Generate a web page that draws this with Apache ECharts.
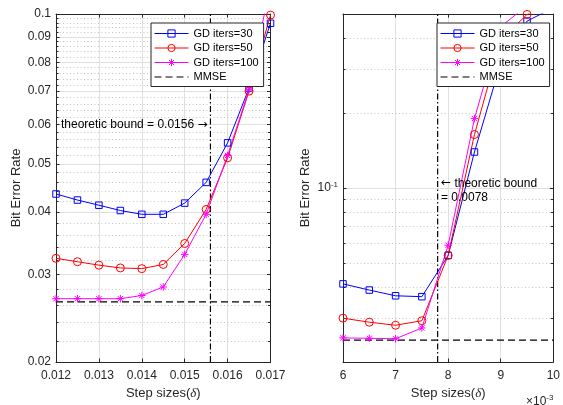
<!DOCTYPE html>
<html>
<head>
<meta charset="utf-8">
<script src="https://cdn.jsdelivr.net/npm/echarts@6/dist/echarts.min.js"></script>
<style>
html,body{margin:0;padding:0;background:#fff;}
#chart{width:563px;height:405px;}
</style>
</head>
<body>
<div id="chart"></div>
<script>
// Sweep 1: step sizes 0.012 .. 0.017
const stepsWide = [0.012, 0.0125, 0.013, 0.0135, 0.014, 0.0145, 0.015, 0.0155, 0.016, 0.0165, 0.017];
const berWide30  = [0.0435, 0.0423, 0.0413, 0.0403, 0.0396, 0.0396, 0.0417, 0.0459, 0.0551, 0.0710, 0.0958];
const berWide50  = [0.0323, 0.0318, 0.0313, 0.0309, 0.0308, 0.0314, 0.0346, 0.0405, 0.0514, 0.0700, 0.0995];
const berWide100 = [0.0268, 0.0268, 0.0268, 0.0268, 0.0272, 0.0283, 0.0329, 0.0396, 0.0520, 0.0705, 0.1150];
const mmseWide = 0.0264;
const boundWide = 0.0156;

// Sweep 2: step sizes 0.006 .. 0.010
const stepsNarrow = [0.006, 0.0065, 0.007, 0.0075, 0.008, 0.0085, 0.009, 0.0095, 0.010];
const berNarrow30  = [0.0412, 0.0389, 0.0369, 0.0366, 0.0536, 0.1395, 0.318, 0.468, 0.530];
const berNarrow50  = [0.0300, 0.0289, 0.0281, 0.0293, 0.0536, 0.164, 0.393, 0.498, 0.560];
const berNarrow100 = [0.0250, 0.0249, 0.0248, 0.0274, 0.0589, 0.190, 0.445, 0.540, 0.600];
const mmseNarrow = 0.0245;
const boundNarrow = 0.0078;

// Axis ticks
const xTicksWide = [0.012, 0.013, 0.014, 0.015, 0.016, 0.017];
const yTicksWide = [0.02, 0.03, 0.04, 0.05, 0.06, 0.07, 0.08, 0.09, 0.1];
const yMinorWide = [0.022, 0.024, 0.026, 0.028, 0.032, 0.034, 0.036, 0.038, 0.042, 0.044, 0.046, 0.048,
                    0.052, 0.054, 0.056, 0.058, 0.062, 0.064, 0.066, 0.068, 0.072, 0.074, 0.076, 0.078,
                    0.082, 0.084, 0.086, 0.088, 0.092, 0.094, 0.096, 0.098];
const xTicksNarrow = [0.006, 0.007, 0.008, 0.009, 0.010];
const yTicksNarrow = [0.1];
const yMinorNarrow = [0.03, 0.04, 0.05, 0.06, 0.07, 0.08, 0.09, 0.2, 0.3, 0.4];

const names = ['GD iters=30', 'GD iters=50', 'GD iters=100', 'MMSE'];

const FONT = 'Liberation Sans, Arial, Helvetica, sans-serif';
const ARROW_FONT = 'DejaVu Sans, sans-serif';
const INK = '#262626';
const GRID_MAJOR = '#dfdfdf';
const GRID_MINOR = '#c4c4c4';
const STAR = 'path://M5,0L5,10M0,5L10,5M1.5,1.5L8.5,8.5M1.5,8.5L8.5,1.5';

const panels = [
  { left: 56, xs: stepsWide, ys: [berWide30, berWide50, berWide100], mmse: mmseWide, bound: boundWide,
    xMin: 0.012, xMax: 0.017, xTicks: xTicksWide, yMin: 0.02, yMax: 0.1, yTicks: yTicksWide, yMinor: yMinorWide,
    yNameGap: 33,
    xFmt: v => v.toFixed(3),
    yFmt: v => (Math.abs(v - 0.1) < 1e-9 ? '0.1' : (+v).toFixed(2)) },
  { left: 343, xs: stepsNarrow, ys: [berNarrow30, berNarrow50, berNarrow100], mmse: mmseNarrow, bound: boundNarrow,
    xMin: 0.006, xMax: 0.010, xTicks: xTicksNarrow, yMin: 0.02, yMax: 0.5, yTicks: yTicksNarrow, yMinor: yMinorNarrow,
    yNameGap: 31,
    xFmt: v => String(Math.round(v * 1000)),
    yFmt: v => '{b|10}{s|-1}' }
];

const grid = [], xAxis = [], yAxis = [], series = [];

panels.forEach((p, gi) => {
  grid.push({ left: p.left, top: 14, width: 214.5, height: 351, containLabel: false });

  const xBase = {
    type: 'value', gridIndex: gi, min: p.xMin, max: p.xMax,
    axisLine: { show: true, lineStyle: { color: INK, width: 1 } },
    axisTick: { show: true, inside: true, length: 3.5, customValues: p.xTicks, lineStyle: { color: INK } }
  };
  xAxis.push(Object.assign({}, xBase, {
    position: 'bottom',
    axisLabel: { show: true, customValues: p.xTicks, formatter: p.xFmt, margin: 8, color: INK, fontSize: 12, fontFamily: FONT },
    splitLine: { show: true, lineStyle: { color: GRID_MAJOR, width: 1 } },
    name: '{n|Step sizes(}{d|δ}{n|)}', nameLocation: 'middle', nameGap: 25,
    nameTextStyle: { rich: { n: { fontSize: 13, fontFamily: FONT, color: INK },
                             d: { fontSize: 13, fontFamily: 'Liberation Serif, serif', fontStyle: 'italic', color: INK } } }
  }));
  xAxis.push(Object.assign({}, xBase, {
    position: 'top', axisLabel: { show: false }, splitLine: { show: false }
  }));

  const yBase = { type: 'log', gridIndex: gi, min: p.yMin, max: p.yMax, axisLabel: { show: false }, splitLine: { show: false } };
  // left: major ticks, labels, solid grid
  yAxis.push(Object.assign({}, yBase, {
    position: 'left',
    axisLine: { show: true, lineStyle: { color: INK, width: 1 } },
    axisTick: { show: true, inside: true, length: 3.5, customValues: p.yTicks, lineStyle: { color: INK } },
    axisLabel: { show: true, customValues: p.yTicks, formatter: p.yFmt, margin: 5, color: INK, fontSize: 12, fontFamily: FONT,
                 rich: { b: { fontSize: 12, fontFamily: FONT, color: INK }, s: { fontSize: 8, fontFamily: FONT, color: INK, verticalAlign: 'bottom', padding: [0, 0, 7, 0] } } },
    splitLine: { show: true, lineStyle: { color: GRID_MAJOR, width: 1 } },
    name: 'Bit Error Rate', nameLocation: 'middle', nameGap: p.yNameGap,
    nameTextStyle: { fontSize: 13, fontFamily: FONT, color: INK }
  }));
  // left: minor ticks, dotted grid
  yAxis.push(Object.assign({}, yBase, {
    position: 'left',
    axisLine: { show: false },
    axisTick: { show: true, inside: true, length: 2.5, customValues: p.yMinor, lineStyle: { color: INK } },
    splitLine: { show: true, lineStyle: { color: GRID_MINOR, width: 1, type: [1, 2.5] } }
  }));
  // right mirror: major + minor ticks
  yAxis.push(Object.assign({}, yBase, {
    position: 'right',
    axisLine: { show: true, lineStyle: { color: INK, width: 1 } },
    axisTick: { show: true, inside: true, length: 3.5, customValues: p.yTicks, lineStyle: { color: INK } }
  }));
  yAxis.push(Object.assign({}, yBase, {
    position: 'right',
    axisLine: { show: false },
    axisTick: { show: true, inside: true, length: 2.5, customValues: p.yMinor, lineStyle: { color: INK } }
  }));

  const xi = gi * 2, yi = gi * 4;
  const styles = [
    { color: '#0000ff', symbol: 'rect', size: 6.5 },
    { color: '#ff0000', symbol: 'circle', size: 8 },
    { color: '#ff00ff', symbol: STAR, size: 7.5 }
  ];
  p.ys.forEach((ys, k) => {
    const s = styles[k];
    series.push({
      type: 'line', name: names[k], xAxisIndex: xi, yAxisIndex: yi,
      data: p.xs.map((x, i) => [x, ys[i]]),
      symbol: s.symbol, symbolSize: s.size, showAllSymbol: true, clip: true,
      lineStyle: { color: s.color, width: 1 },
      itemStyle: { color: 'rgba(0,0,0,0)', borderColor: s.color, borderWidth: 1 },
      emphasis: { disabled: true }, silent: true, z: 3
    });
  });
  series.push({
    type: 'line', name: names[3], xAxisIndex: xi, yAxisIndex: yi,
    data: [[p.xMin, p.mmse], [p.xMax, p.mmse]],
    symbol: 'circle', symbolSize: 0, showSymbol: false, clip: true,
    lineStyle: { color: '#000', width: 1.3, type: [7, 4] },
    itemStyle: { color: 'rgba(0,0,0,0)', borderColor: 'rgba(0,0,0,0)', borderWidth: 0 },
    emphasis: { disabled: true }, silent: true, z: 2
  });
  series.push({
    type: 'line', name: 'bound', xAxisIndex: xi, yAxisIndex: yi,
    data: [[p.bound, p.yMin], [p.bound, p.yMax]],
    symbol: 'none', clip: true,
    lineStyle: { color: '#000', width: 1.2, type: [6, 2.5, 1.5, 2.5] },
    emphasis: { disabled: true }, silent: true, z: 2
  });
});

const legendBase = {
  data: names, orient: 'vertical', top: 23, itemWidth: 34, itemHeight: 9, itemGap: 3.5,
  padding: [5, 5, 4, 3], backgroundColor: '#fff', borderColor: INK, borderWidth: 1, borderRadius: 0,
  selectedMode: false, lineStyle: { width: 1 }, itemStyle: { borderWidth: 1 },
  textStyle: { fontSize: 11, fontFamily: FONT, color: '#000' }, z: 10
};

const annRich = {
  t: { fontSize: 12, fontFamily: FONT, fill: '#000' },
  a: { fontSize: 12, fontFamily: ARROW_FONT, fill: '#000' }
};

const chart = echarts.init(document.getElementById('chart'), null, { renderer: 'canvas' });
chart.setOption({
  animation: false,
  backgroundColor: '#fff',
  grid, xAxis, yAxis, series,
  legend: [Object.assign({}, legendBase, { left: 151 }), Object.assign({}, legendBase, { left: 437 })],
  graphic: [
    { type: 'text', left: 61, top: 119, z: 20, style: { text: '{t|theoretic bound = 0.0156 }{a|→}', rich: annRich } },
    { type: 'text', left: 441, top: 176, z: 20, style: { text: '{a|←}{t| theoretic bound}\n{t|= 0.0078}', lineHeight: 14.5, rich: {
        t: Object.assign({ lineHeight: 14.5 }, annRich.t), a: Object.assign({ lineHeight: 14.5 }, annRich.a) } } },
    { type: 'text', left: 526, top: 394, z: 20, style: {
        text: '{m|×10}{s|-3}', rich: { m: { fontSize: 12, fontFamily: FONT, fill: INK }, s: { fontSize: 8, fontFamily: FONT, fill: INK, verticalAlign: 'bottom', padding: [0, 0, 7, 0] } } } }
  ]
});
</script>
</body>
</html>
